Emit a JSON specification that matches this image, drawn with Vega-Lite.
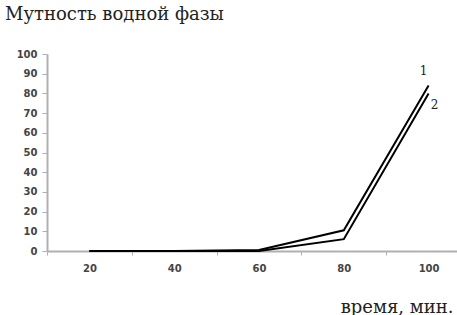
{
  "$schema": "https://vega.github.io/schema/vega-lite/v6.json",
  "autosize": "none",
  "width": 410,
  "height": 197,
  "padding": {"left": 47, "top": 54, "right": 0, "bottom": 64},
  "background": "white",
  "title": {
    "text": "Мутность водной фазы",
    "anchor": "start",
    "frame": "group",
    "dx": -42,
    "offset": 25,
    "font": "DejaVu Serif",
    "fontSize": 18,
    "fontWeight": "normal",
    "color": "#222"
  },
  "config": {
    "view": {"stroke": null},
    "axis": {
      "grid": false,
      "domainColor": "#b0b0b0",
      "domainWidth": 2,
      "tickColor": "#b0b0b0",
      "labelFont": "DejaVu Sans",
      "labelFontSize": 10,
      "labelFontWeight": "bold",
      "labelColor": "#444"
    }
  },
  "data": {
    "values": [
      {"t": 20, "v": 0, "s": "1"},
      {"t": 40, "v": 0, "s": "1"},
      {"t": 60, "v": 0.5, "s": "1"},
      {"t": 80, "v": 10.5, "s": "1"},
      {"t": 100, "v": 84, "s": "1"},
      {"t": 20, "v": 0, "s": "2"},
      {"t": 40, "v": 0, "s": "2"},
      {"t": 60, "v": 0, "s": "2"},
      {"t": 80, "v": 6, "s": "2"},
      {"t": 100, "v": 80, "s": "2"}
    ]
  },
  "encoding": {
    "x": {
      "field": "t",
      "type": "quantitative",
      "scale": {"domain": [10, 106.7], "nice": false, "zero": false},
      "axis": {
        "values": [10, 20, 30, 40, 50, 60, 70, 80, 90, 100],
        "labelExpr": "datum.value % 20 == 0 ? datum.label : ''",
        "tickOpacity": {"condition": {"test": "datum.value % 20 == 10", "value": 1}, "value": 0},
        "tickSize": 4,
        "labelPadding": 8,
        "title": "время, мин.",
        "titleFont": "DejaVu Serif",
        "titleFontSize": 18,
        "titleFontWeight": "normal",
        "titleColor": "#222",
        "titleAnchor": "end",
        "titleAlign": "right",
        "titleX": 406,
        "titleY": 61,
        "titleBaseline": "alphabetic"
      }
    },
    "y": {
      "field": "v",
      "type": "quantitative",
      "scale": {"domain": [0, 100], "nice": false},
      "axis": {
        "values": [0, 10, 20, 30, 40, 50, 60, 70, 80, 90, 100],
        "tickSize": 5,
        "labelPadding": 5,
        "title": null
      }
    }
  },
  "layer": [
    {
      "mark": {"type": "line", "color": "black", "strokeWidth": 2},
      "encoding": {"detail": {"field": "s"}}
    },
    {
      "transform": [{"filter": "datum.t == 100 && datum.s == '1'"}],
      "mark": {"type": "text", "font": "DejaVu Serif", "fontSize": 12, "dx": -5, "dy": -15, "color": "#222"},
      "encoding": {"text": {"field": "s"}}
    },
    {
      "transform": [{"filter": "datum.t == 100 && datum.s == '2'"}],
      "mark": {"type": "text", "font": "DejaVu Serif", "fontSize": 12, "dx": 6, "dy": 12, "color": "#222"},
      "encoding": {"text": {"field": "s"}}
    }
  ]
}
